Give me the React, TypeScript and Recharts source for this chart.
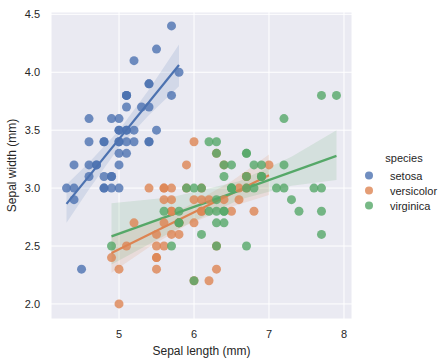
import React from "react";
import {
  ComposedChart,
  Scatter,
  Line,
  Area,
  XAxis,
  YAxis,
  CartesianGrid,
} from "recharts";

// iris sepal measurements, per species
const setosaLength = [
  5.1, 4.9, 4.7, 4.6, 5.0, 5.4, 4.6, 5.0, 4.4, 4.9, 5.4, 4.8, 4.8, 4.3, 5.8, 5.7, 5.4,
  5.1, 5.7, 5.1, 5.4, 5.1, 4.6, 5.1, 4.8, 5.0, 5.0, 5.2, 5.2, 4.7, 4.8, 5.4, 5.2, 5.5,
  4.9, 5.0, 5.5, 4.9, 4.4, 5.1, 5.0, 4.5, 4.4, 5.0, 5.1, 4.8, 5.1, 4.6, 5.3, 5.0,
];
const setosaWidth = [
  3.5, 3.0, 3.2, 3.1, 3.6, 3.9, 3.4, 3.4, 2.9, 3.1, 3.7, 3.4, 3.0, 3.0, 4.0, 4.4, 3.9,
  3.5, 3.8, 3.8, 3.4, 3.7, 3.6, 3.3, 3.4, 3.0, 3.4, 3.5, 3.4, 3.2, 3.1, 3.4, 4.1, 4.2,
  3.1, 3.2, 3.5, 3.6, 3.0, 3.4, 3.5, 2.3, 3.2, 3.5, 3.8, 3.0, 3.8, 3.2, 3.7, 3.3,
];
const versicolorLength = [
  7.0, 6.4, 6.9, 5.5, 6.5, 5.7, 6.3, 4.9, 6.6, 5.2, 5.0, 5.9, 6.0, 6.1, 5.6, 6.7, 5.6,
  5.8, 6.2, 5.6, 5.9, 6.1, 6.3, 6.1, 6.4, 6.6, 6.8, 6.7, 6.0, 5.7, 5.5, 5.5, 5.8, 6.0,
  5.4, 6.0, 6.7, 6.3, 5.6, 5.5, 5.5, 6.1, 5.8, 5.0, 5.6, 5.7, 5.7, 6.2, 5.1, 5.7,
];
const versicolorWidth = [
  3.2, 3.2, 3.1, 2.3, 2.8, 2.8, 3.3, 2.4, 2.9, 2.7, 2.0, 3.0, 2.2, 2.9, 2.9, 3.1, 3.0,
  2.7, 2.2, 2.5, 3.2, 2.8, 2.5, 2.8, 2.9, 3.0, 2.8, 3.0, 2.9, 2.6, 2.4, 2.4, 2.7, 2.7,
  3.0, 3.4, 3.1, 2.3, 3.0, 2.5, 2.6, 3.0, 2.6, 2.3, 2.7, 3.0, 2.9, 2.9, 2.5, 2.8,
];
const virginicaLength = [
  6.3, 5.8, 7.1, 6.3, 6.5, 7.6, 4.9, 7.3, 6.7, 7.2, 6.5, 6.4, 6.8, 5.7, 5.8, 6.4, 6.5,
  7.7, 7.7, 6.0, 6.9, 5.6, 7.7, 6.3, 6.7, 7.2, 6.2, 6.1, 6.4, 7.2, 7.4, 7.9, 6.4, 6.3,
  6.1, 7.7, 6.3, 6.4, 6.0, 6.9, 6.7, 6.9, 5.8, 6.8, 6.7, 6.7, 6.3, 6.5, 6.2, 5.9,
];
const virginicaWidth = [
  3.3, 2.7, 3.0, 2.9, 3.0, 3.0, 2.5, 2.9, 2.5, 3.6, 3.2, 2.7, 3.0, 2.5, 2.8, 3.2, 3.0,
  3.8, 2.6, 2.2, 3.2, 2.8, 2.8, 2.7, 3.3, 3.2, 2.8, 3.0, 2.8, 3.0, 2.8, 3.8, 2.8, 2.8,
  2.6, 3.0, 3.4, 3.1, 3.0, 3.1, 3.1, 3.1, 2.7, 3.2, 3.3, 3.0, 2.5, 3.0, 3.4, 3.0,
];

// regression lines (end points) and confidence bands
const setosaFitX = [4.3, 5.8];
const setosaFitY = [2.864, 4.062];
const setosaBandX = [4.3, 4.6, 5.0, 5.4, 5.8];
const setosaBandLo = [2.7, 2.99, 3.35, 3.63, 3.88];
const setosaBandHi = [3.03, 3.22, 3.5, 3.85, 4.24];

const versicolorFitX = [4.9, 7.0];
const versicolorFitY = [2.439, 3.11];
const versicolorBandX = [4.9, 5.4, 5.9, 6.5, 7.0];
const versicolorBandLo = [2.27, 2.49, 2.68, 2.84, 2.94];
const versicolorBandHi = [2.6, 2.71, 2.84, 3.06, 3.29];

const virginicaFitX = [4.9, 7.9];
const virginicaFitY = [2.583, 3.278];
const virginicaBandX = [4.9, 5.7, 6.6, 7.3, 7.9];
const virginicaBandLo = [2.34, 2.62, 2.9, 3.02, 3.07];
const virginicaBandHi = [2.87, 2.92, 3.06, 3.27, 3.5];

const speciesNames = ["setosa", "versicolor", "virginica"];
const colors = ["#4C72B0", "#DD8452", "#55A868"];
const xTicks = [5, 6, 7, 8];
const yTicks = [2.0, 2.5, 3.0, 3.5, 4.0, 4.5];

const FONT = "'Liberation Sans', Arial, sans-serif";
const TEXT = "#262626";

const toPoints = (xs: number[], ys: number[]) => xs.map((x, i) => ({ x, y: ys[i] }));
const toBand = (xs: number[], lo: number[], hi: number[]) =>
  xs.map((x, i) => ({ x, band: [lo[i], hi[i]] }));

const groups = [
  {
    points: toPoints(setosaLength, setosaWidth),
    fit: toPoints(setosaFitX, setosaFitY),
    band: toBand(setosaBandX, setosaBandLo, setosaBandHi),
  },
  {
    points: toPoints(versicolorLength, versicolorWidth),
    fit: toPoints(versicolorFitX, versicolorFitY),
    band: toBand(versicolorBandX, versicolorBandLo, versicolorBandHi),
  },
  {
    points: toPoints(virginicaLength, virginicaWidth),
    fit: toPoints(virginicaFitX, virginicaFitY),
    band: toBand(virginicaBandX, virginicaBandLo, virginicaBandHi),
  },
];

const dotShape = (color: string) => (props: any) =>
  <circle cx={props.cx} cy={props.cy} r={4.5} fill={color} fillOpacity={0.8} />;

const YLabel = (props: any) => {
  const { viewBox } = props;
  const cy = viewBox.y + viewBox.height / 2;
  return (
    <text
      x={12}
      y={cy}
      transform={`rotate(-90, 12, ${cy})`}
      textAnchor="middle"
      dominantBaseline="central"
      fontSize={12}
      fill={TEXT}
      fontFamily={FONT}
    >
      Sepal width (mm)
    </text>
  );
};

const App = () => {
  return (
    <div style={{ position: "absolute", left: 0, top: 0, width: 448, height: 364, background: "#fff" }}>
      <ComposedChart
        width={448}
        height={364}
        margin={{ top: 12, right: 96, left: 0, bottom: 0 }}
      >
        <CartesianGrid fill="#EAEAF2" stroke="#ffffff" strokeWidth={1} />
        <XAxis
          type="number"
          dataKey="x"
          domain={[4.093, 8.107]}
          ticks={xTicks}
          axisLine={false}
          tickLine={false}
          tickMargin={5}
          height={45}
          tick={{ fontSize: 11, fill: TEXT, fontFamily: FONT }}
          label={{
            value: "Sepal length (mm)",
            position: "insideBottom",
            offset: 9,
            fontSize: 12,
            fill: TEXT,
            fontFamily: FONT,
          }}
        />
        <YAxis
          type="number"
          dataKey="y"
          domain={[1.87, 4.52]}
          ticks={yTicks}
          axisLine={false}
          tickLine={false}
          tickMargin={5}
          width={51}
          tickFormatter={(v: number) => v.toFixed(1)}
          tick={{ fontSize: 11, fill: TEXT, fontFamily: FONT }}
          label={<YLabel />}
        />
        {groups.flatMap((g, i) => [
          <Scatter
            key={`s${i}`}
            data={g.points}
            dataKey="y"
            shape={dotShape(colors[i])}
            isAnimationActive={false}
          />,
          <Area
            key={`a${i}`}
            data={g.band}
            dataKey="band"
            type="linear"
            stroke="none"
            fill={colors[i]}
            fillOpacity={0.15}
            isAnimationActive={false}
            activeDot={false}
          />,
          <Line
            key={`l${i}`}
            data={g.fit}
            dataKey="y"
            type="linear"
            stroke={colors[i]}
            strokeWidth={2.2}
            dot={false}
            activeDot={false}
            isAnimationActive={false}
          />,
        ])}
      </ComposedChart>
      <div
        style={{
          position: "absolute",
          left: 360,
          top: 150,
          width: 80,
          fontFamily: FONT,
          fontSize: 11,
          color: TEXT,
        }}
      >
        <div style={{ textAlign: "center", paddingLeft: 8, height: 18, lineHeight: "16px" }}>species</div>
        {speciesNames.map((name, i) => (
          <div key={name} style={{ display: "flex", alignItems: "center", height: 15 }}>
            <svg width={18} height={15}>
              <circle cx={9} cy={7.5} r={4} fill={colors[i]} fillOpacity={0.8} />
            </svg>
            <span style={{ marginLeft: 12 }}>{name}</span>
          </div>
        ))}
      </div>
    </div>
  );
};

export default App;
